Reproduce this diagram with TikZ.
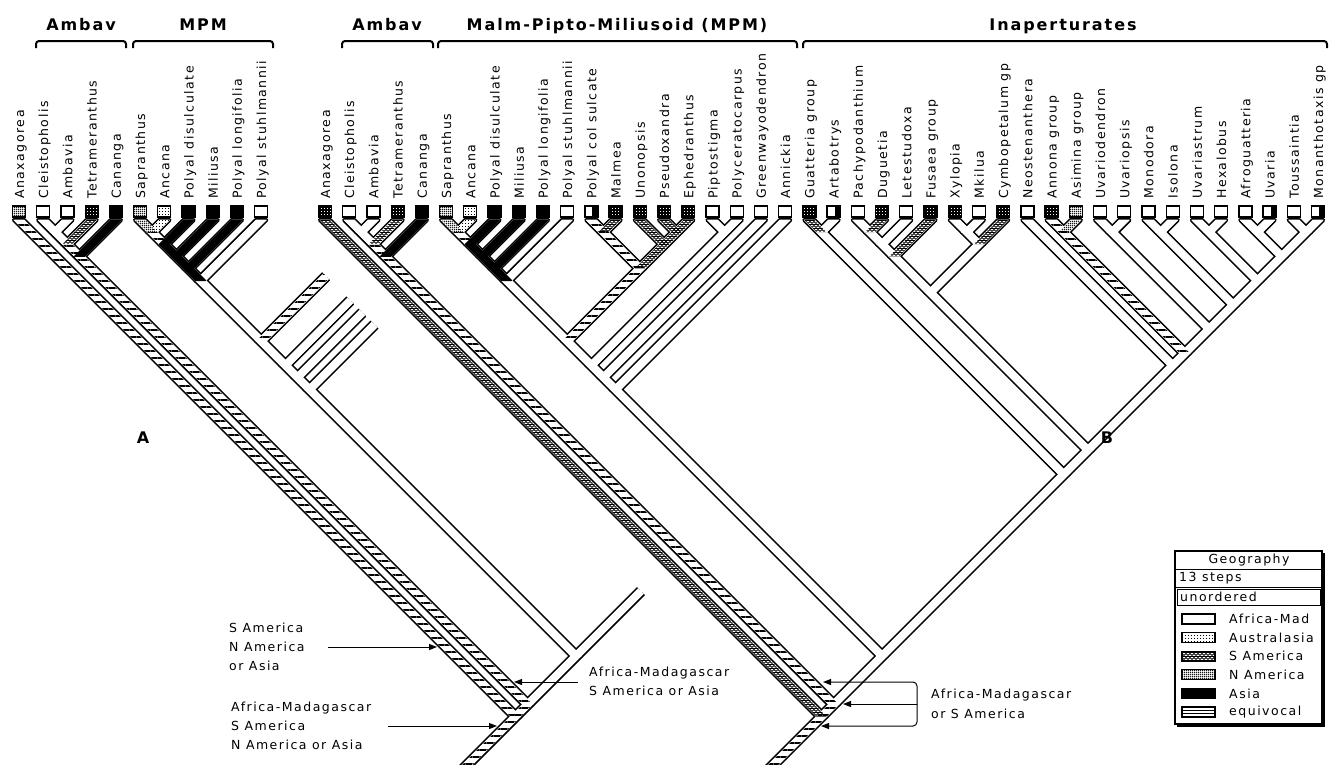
\documentclass[tikz,border=0pt]{standalone}
\usepackage{fontspec}
\setmainfont{DejaVu Sans}
\newfontfamily\lblfont[LetterSpace=12]{DejaVu Sans}
\newfontfamily\hdfont[LetterSpace=12]{DejaVu Sans}
\usetikzlibrary{patterns,patterns.meta,arrows.meta}

\pgfdeclarepatternformonly{sam}{\pgfqpoint{-1pt}{-1pt}}{\pgfqpoint{5pt}{5pt}}{\pgfqpoint{4pt}{4pt}}{%
  \pgfsetlinewidth{0.9pt}%
  \pgfpathmoveto{\pgfqpoint{0pt}{0.6pt}}%
  \pgfpathlineto{\pgfqpoint{2pt}{2.4pt}}%
  \pgfpathlineto{\pgfqpoint{4pt}{0.6pt}}%
  \pgfusepath{stroke}%
  \pgfpathrectangle{\pgfqpoint{0pt}{3pt}}{\pgfqpoint{4pt}{1pt}}%
  \pgfusepath{fill}%
}
\pgfdeclarepatternformonly{nam}{\pgfqpoint{0pt}{0pt}}{\pgfqpoint{2pt}{2pt}}{\pgfqpoint{2pt}{2pt}}{%
  \pgfpathrectangle{\pgfqpoint{0pt}{0pt}}{\pgfqpoint{2pt}{1pt}}%
  \pgfpathrectangle{\pgfqpoint{0pt}{1pt}}{\pgfqpoint{1pt}{1pt}}%
  \pgfusepath{fill}%
}
\pgfdeclarepatternformonly{aus}{\pgfqpoint{0pt}{0pt}}{\pgfqpoint{3pt}{3pt}}{\pgfqpoint{3pt}{3pt}}{%
  \pgfpathrectangle{\pgfqpoint{0pt}{0pt}}{\pgfqpoint{1.2pt}{1.2pt}}%
  \pgfusepath{fill}%
}

\def\Yo{220}
\def\lsp{24.22}
\def\hw{5}
\newcommand\BrCoords[4]{%
  \pgfmathsetmacro\bxc{\Xo+\lsp*(#1+#2)/2}%
  \pgfmathsetmacro\byc{\Yo+\lsp*(#2-#1)/2}%
  \pgfmathsetmacro\bxp{\Xo+\lsp*(#3+#4)/2}%
  \pgfmathsetmacro\byp{\Yo+\lsp*(#4-#3)/2}%
}
\newcommand\BrOut[5]{\BrCoords{#1}{#2}{#3}{#4}%
  \path[brout] (\bxc-\hw,\byc) -- (\bxc+\hw,\byc) -- (\bxp+\hw,\byp) -- (\bxp-\hw,\byp) -- cycle;}
\newcommand\BrWhite[5]{\BrCoords{#1}{#2}{#3}{#4}%
  \path[brwhite] (\bxc-\hw,\byc) -- (\bxc+\hw,\byc) -- (\bxp+\hw,\byp) -- (\bxp-\hw,\byp) -- cycle;}
\newcommand\BrPat[5]{\BrCoords{#1}{#2}{#3}{#4}%
  \path[p#5] (\bxc-\hw,\byc) -- (\bxc+\hw,\byc) -- (\bxp+\hw,\byp) -- (\bxp-\hw,\byp) -- cycle;}

\newcommand\TreeList[2]{%
#1{0}{0}{0}{41}{#2}%
#1{1}{1}{1}{2}{W}%
#1{2}{2}{1}{2}{W}%
#1{1}{2}{1}{3}{W}%
#1{3}{3}{1}{3}{SAm}%
#1{1}{3}{1}{4}{Eq}%
#1{4}{4}{1}{4}{Asia}%
#1{1}{4}{1}{41}{Eq}%
#1{5}{5}{5}{6}{NAm}%
#1{6}{6}{5}{6}{Aus}%
#1{5}{6}{5}{7}{Eq}%
#1{7}{7}{5}{7}{Asia}%
#1{5}{7}{5}{8}{Asia}%
#1{8}{8}{5}{8}{Asia}%
#1{5}{8}{5}{9}{Asia}%
#1{9}{9}{5}{9}{Asia}%
#1{5}{9}{5}{10}{Asia}%
#1{10}{10}{5}{10}{W}%
#1{5}{10}{5}{15}{W}%
#1{11}{11}{11}{12}{Eq}%
#1{12}{12}{11}{12}{SAm}%
#1{11}{12}{11}{15}{Eq}%
#1{13}{13}{13}{15}{SAm}%
#1{14}{14}{14}{15}{SAm}%
#1{15}{15}{14}{15}{SAm}%
#1{14}{15}{13}{15}{SAm}%
#1{13}{15}{11}{15}{SAm}%
#1{11}{15}{5}{15}{Eq}%
#1{5}{15}{5}{17}{W}%
#1{16}{16}{16}{17}{W}%
#1{17}{17}{16}{17}{W}%
#1{16}{17}{5}{17}{W}%
#1{5}{17}{5}{18}{W}%
#1{18}{18}{5}{18}{W}%
#1{5}{18}{5}{19}{W}%
#1{19}{19}{5}{19}{W}%
#1{5}{19}{5}{41}{W}%
#1{20}{20}{20}{21}{SAm}%
#1{21}{21}{20}{21}{W}%
#1{20}{21}{20}{41}{W}%
#1{22}{22}{22}{23}{W}%
#1{23}{23}{22}{23}{SAm}%
#1{22}{23}{22}{24}{W}%
#1{24}{24}{22}{24}{W}%
#1{22}{24}{22}{25}{W}%
#1{25}{25}{22}{25}{SAm}%
#1{22}{25}{22}{28}{W}%
#1{26}{26}{26}{27}{W}%
#1{27}{27}{26}{27}{W}%
#1{26}{27}{26}{28}{W}%
#1{28}{28}{26}{28}{SAm}%
#1{26}{28}{22}{28}{W}%
#1{22}{28}{22}{41}{W}%
#1{29}{29}{29}{41}{W}%
#1{30}{30}{30}{31}{Eq}%
#1{31}{31}{30}{31}{NAm}%
#1{30}{31}{30}{41}{Eq}%
#1{32}{32}{32}{33}{W}%
#1{33}{33}{32}{33}{W}%
#1{32}{33}{32}{41}{W}%
#1{34}{34}{34}{35}{W}%
#1{35}{35}{34}{35}{W}%
#1{34}{35}{34}{41}{W}%
#1{36}{36}{36}{37}{W}%
#1{37}{37}{36}{37}{W}%
#1{36}{37}{36}{41}{W}%
#1{38}{38}{38}{39}{W}%
#1{39}{39}{38}{39}{W}%
#1{38}{39}{38}{41}{W}%
#1{40}{40}{40}{41}{W}%
#1{41}{41}{40}{41}{W}%
#1{40}{41}{38}{41}{W}%
#1{38}{41}{36}{41}{W}%
#1{36}{41}{34}{41}{W}%
#1{34}{41}{32}{41}{W}%
#1{32}{41}{30}{41}{W}%
#1{30}{41}{29}{41}{W}%
#1{29}{41}{22}{41}{W}%
#1{22}{41}{20}{41}{W}%
#1{20}{41}{5}{41}{W}%
#1{5}{41}{1}{41}{W}%
#1{1}{41}{0}{41}{Eq}%
#1{0}{41}{-6}{41}{Eq}%
}

\newcommand\LeafRow[2]{%
  \foreach \nm/\st [count=\i from 0] in {#2} {%
    \pgfmathsetmacro\lx{\Xo+\lsp*\i}%
    \path[box\st] (\lx-6.5,206) rectangle (\lx+6.5,217);%
    \node[leaf] (#1\i) at (\lx+5,199) {\nm};%
  }%
}

\tikzset{
  brout/.style={draw=black, line width=4.2pt, line join=round},
  brwhite/.style={fill=white, draw=white, line width=1pt, line join=round},
  pW/.style={},
  pEq/.style={pattern={Lines[angle=0,distance=7pt,line width=2.6pt]}},
  pSAm/.style={pattern=sam},
  pNAm/.style={pattern=nam},
  pAus/.style={pattern=aus},
  pAsia/.style={fill=black, draw=black, line width=1pt, line join=round},
  boxW/.style={fill=white, draw=black, line width=1.3pt},
  boxAsia/.style={fill=black, draw=black, line width=1.3pt},
  boxSAm/.style={preaction={fill=black}, pattern=aus, pattern color=white, draw=black, line width=1.3pt},
  boxNAm/.style={preaction={fill=white}, pattern=nam, draw=black, line width=1.3pt},
  boxAus/.style={preaction={fill=white}, pattern=aus, draw=black, line width=1.3pt},
  boxSAmL/.style={preaction={fill=white}, pattern=sam, draw=black, line width=1.3pt},
  boxHalf/.style={fill=white, draw=black, line width=1.3pt,
    path picture={\fill[black] ([xshift=-5.5pt]path picture bounding box.north east) rectangle (path picture bounding box.south east);}},
  boxEqL/.style={fill=white, draw=black, line width=1.3pt,
    path picture={\draw[line width=1pt] ([yshift=1.8pt]path picture bounding box.west) -- ([yshift=1.8pt]path picture bounding box.east);
                  \draw[line width=1pt] ([yshift=-1.8pt]path picture bounding box.west) -- ([yshift=-1.8pt]path picture bounding box.east);}},
  leaf/.style={rotate=90, anchor=base west, inner sep=0pt, font=\lblfont\fontsize{12.5}{15}\selectfont},
  hd/.style={anchor=base, inner sep=0pt, font=\hdfont\bfseries\fontsize{16}{18}\selectfont},
  pl/.style={anchor=center, inner sep=0pt, font=\hdfont\bfseries\fontsize{16}{18}\selectfont},
  brk/.style={line width=2pt, rounded corners=3pt},
  ann/.style={anchor=west, align=left, inner sep=0pt, font=\lblfont\fontsize{12.5}{19}\selectfont},
  annb/.style={anchor=west, align=left, inner sep=0pt, font=\lblfont\fontsize{12.5}{20}\selectfont},
  lg/.style={anchor=west, inner sep=0pt, font=\lblfont\fontsize{12.5}{15}\selectfont},
  arr/.style={line width=1pt, -{Triangle[length=8pt,width=6pt]}},
}

\begin{document}
\begin{tikzpicture}[x=1pt,y=-1pt]
\useasboundingbox (0,0) rectangle (1333,764);
\clip (0,0) rectangle (1333,764);

% ---------- Panel A tree (truncated) ----------
\begin{scope}
  \clip (-100,-150) -- (-100,900) -- (950,900) -- cycle;
  \def\Xo{19}
  \TreeList\BrOut{Eq}
  \TreeList\BrWhite{Eq}
  \TreeList\BrPat{Eq}
\end{scope}

% ---------- Panel B tree ----------
\begin{scope}
  \def\Xo{325}
  \TreeList\BrOut{SAm}
  \TreeList\BrWhite{SAm}
  \TreeList\BrPat{SAm}
\end{scope}

% ---------- leaves ----------
\begin{scope}
  \def\Xo{19}
  \LeafRow{A}{Anaxagorea/NAm, Cleistopholis/W, Ambavia/W, Tetrameranthus/SAm, Cananga/Asia, Sapranthus/NAm, Ancana/Aus, Polyal disulculate/Asia, Miliusa/Asia, Polyal longifolia/Asia, Polyal stuhlmannii/W}
\end{scope}
\begin{scope}
  \def\Xo{325}
  \LeafRow{B}{Anaxagorea/SAm, Cleistopholis/W, Ambavia/W, Tetrameranthus/SAm, Cananga/Asia, Sapranthus/NAm, Ancana/Aus, Polyal disulculate/Asia, Miliusa/Asia, Polyal longifolia/Asia, Polyal stuhlmannii/W, Polyal col sulcate/Half, Malmea/SAm, Unonopsis/SAm, Pseudoxandra/SAm, Ephedranthus/SAm, Piptostigma/W, Polyceratocarpus/W, Greenwayodendron/W, Annickia/W, Guatteria group/SAm, Artabotrys/Half, Pachypodanthium/W, Duguetia/SAm, Letestudoxa/W, Fusaea group/SAm, Xylopia/SAm, Mkilua/W, Cymbopetalum gp/SAm, Neostenanthera/W, Annona group/SAm, Asimina group/NAm, Uvariodendron/W, Uvariopsis/W, Monodora/W, Isolona/W, Uvariastrum/W, Hexalobus/W, Afroguatteria/W, Uvaria/Half, Toussaintia/W, Monanthotaxis gp/Half}
\end{scope}

% ---------- headings ----------
\node[hd] (hA1) at (81,30) {Ambav};
\node[hd] (hA2) at (203,30) {MPM};
\node[hd] (hB1) at (387,30) {Ambav};
\node[hd] (hB2) at (617,30) {Malm-Pipto-Miliusoid (MPM)};
\node[hd] (hB3) at (1063,30) {Inaperturates};
\draw[brk] (36,48) -- (36,41) -- (126,41) -- (126,48);
\draw[brk] (133,48) -- (133,41) -- (273,41) -- (273,48);
\draw[brk] (342,48) -- (342,41) -- (433,41) -- (433,48);
\draw[brk] (438,48) -- (438,41) -- (797,41) -- (797,48);
\draw[brk] (803,48) -- (803,41) -- (1327,41) -- (1327,48);

% ---------- panel letters ----------
\node[pl] (pA) at (143,438) {A};
\node[pl] (pB) at (1107,438) {B};

% ---------- annotations panel A ----------
\node[ann] (lA1) at (229,647) {S America\\N America\\or Asia};
\coordinate (sA1) at (328,647);
\coordinate (tA1) at (437,647);
\draw[arr] (sA1) -- (tA1);
\node[ann] (lA2) at (231,726) {Africa-Madagascar\\S America\\N America or Asia};
\coordinate (sA2) at (388,726);
\coordinate (tA2) at (497,726);
\draw[arr] (sA2) -- (tA2);
\node[ann] (lA3) at (589,681) {Africa-Madagascar\\S America or Asia};
\coordinate (sA3) at (578,682);
\coordinate (tA3) at (514,682);
\draw[arr] (sA3) -- (tA3);

% ---------- annotations panel B ----------
\node[annb] (lB) at (931,704) {Africa-Madagascar\\or S America};
\coordinate (bk) at (917,704);
\coordinate (tB1) at (823,682);
\coordinate (tB2) at (843,704);
\coordinate (tB3) at (821,726);
\draw[arr, rounded corners=4pt] (bk) |- (tB1);
\draw[arr] (bk) -- (tB2);
\draw[arr, rounded corners=4pt] (bk) |- (tB3);

% ---------- legend ----------
\draw[line width=1.5pt, fill=white] (1175,551) rectangle (1322,724);
\draw[line width=2pt] (1323.5,553) -- (1323.5,725.5) -- (1177,725.5);
\node[lg, anchor=center] (lgT) at (1249,560) {Geography};
\draw[line width=1pt] (1175,569) -- (1322,569);
\node[lg] (lgS) at (1179,578) {13 steps};
\draw[line width=1pt] (1175,587) -- (1322,587);
\draw[line width=1pt] (1177,589) rectangle (1320,605);
\node[lg] (lgU) at (1180,597) {unordered};
\foreach \t/\st [count=\k from 0] in {Africa-Mad/W, Australasia/Aus, S America/SAmL, N America/NAm, Asia/Asia, equivocal/EqL} {
  \pgfmathsetmacro\ly{619+18.6*\k}
  \path[box\st] (1182,\ly-5) rectangle (1215,\ly+5);
  \node[lg] (lg\k) at (1229,\ly) {\t};
}
\end{tikzpicture}
\end{document}
